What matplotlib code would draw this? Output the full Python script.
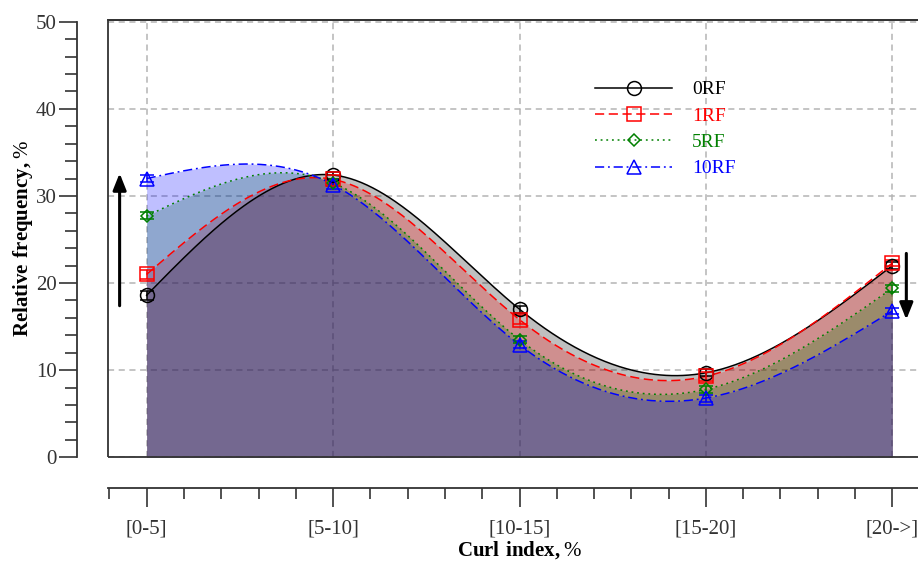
import numpy as np
import matplotlib
matplotlib.use("Agg")
import matplotlib.pyplot as plt
from matplotlib.patches import Rectangle
from matplotlib.ticker import MultipleLocator

plt.rcParams["font.family"] = ["Liberation Serif", "DejaVu Serif"]
plt.rcParams["mathtext.fontset"] = "custom"
plt.rcParams["mathtext.rm"] = "Liberation Serif"
plt.rcParams["mathtext.bf"] = "Liberation Serif:bold"

categories = ["[0-5]", "[5-10]", "[10-15]", "[15-20]", "[20->]"]
labels = ["0RF", "1RF", "5RF", "10RF"]
rf0 = [18.6, 32.4, 17.0, 9.7, 22.0]
rf1 = [21.0, 31.9, 15.8, 9.3, 22.3]
rf5 = [27.7, 31.5, 13.5, 7.8, 19.4]
rf10 = [32.0, 31.3, 12.9, 6.8, 16.8]
err0 = [0.5, 0.4, 0.4, 0.4, 0.4]
err1 = [0.5, 0.5, 0.5, 0.5, 0.4]
err5 = [0.4, 0.4, 0.4, 0.4, 0.4]
err10 = [0.4, 0.5, 0.4, 0.4, 0.3]

colors = ["black", "red", "green", "blue"]
styles = ["-", (0, (6, 3)), (0, (1.2, 2.5)), (0, (6, 2.5, 1.2, 2.5))]
markers = ["o", "s", "D", "^"]
msizes = [10, 9.5, 6.5, 9.5]


def natural_spline(x, y, xs):
    x = np.asarray(x, float)
    y = np.asarray(y, float)
    n = len(x)
    h = np.diff(x)
    A = np.zeros((n, n))
    b = np.zeros(n)
    A[0, 0] = 1
    A[-1, -1] = 1
    for i in range(1, n - 1):
        A[i, i - 1] = h[i - 1]
        A[i, i] = 2 * (h[i - 1] + h[i])
        A[i, i + 1] = h[i]
        b[i] = 6 * ((y[i + 1] - y[i]) / h[i] - (y[i] - y[i - 1]) / h[i - 1])
    M = np.linalg.solve(A, b)
    ys = np.zeros_like(xs)
    for k, xv in enumerate(xs):
        i = min(np.searchsorted(x, xv, side="right") - 1, n - 2)
        i = max(i, 0)
        t1 = x[i + 1] - xv
        t0 = xv - x[i]
        ys[k] = (M[i] * t1 ** 3 / (6 * h[i]) + M[i + 1] * t0 ** 3 / (6 * h[i])
                 + (y[i] / h[i] - M[i] * h[i] / 6) * t1
                 + (y[i + 1] / h[i] - M[i + 1] * h[i] / 6) * t0)
    return ys


fig = plt.figure(figsize=(9.18, 5.62), dpi=100)
ax = fig.add_axes([107.5 / 918, (562 - 457.3) / 562, 824 / 918, (457.3 - 19.5) / 562])

x = np.arange(len(categories))
xs = np.linspace(0, len(categories) - 1, 400)
series = [rf0, rf1, rf5, rf10]
errs = [err0, err1, err5, err10]

for s, c in zip(series, colors):
    ax.fill_between(xs, 0, natural_spline(x, s, xs), color=c, alpha=0.25, lw=0)

handles = []
for s, e, c, ls, m, ms, lab in zip(series, errs, colors, styles, markers, msizes, labels):
    ax.plot(xs, natural_spline(x, s, xs), color=c, ls=ls, lw=1.1, zorder=3)
    ax.errorbar(x, s, yerr=e, fmt="none", ecolor=c, elinewidth=1.1, capsize=5,
                capthick=1.1, zorder=4)
    ax.plot(x, s, ls="none", marker=m, mfc="none", mec=c, ms=ms, mew=1.1, zorder=5)
    h, = ax.plot([], [], color=c, ls=ls, lw=1.1, marker=m, mfc="none", mec=c,
                 ms=ms, mew=1.1)
    handles.append(h)

# arrows showing trend
ax.annotate("", xy=(-0.145, 32.6), xytext=(-0.145, 17.4),
            arrowprops=dict(arrowstyle="-|>,head_length=1.0,head_width=0.4",
                            color="black", lw=2.2, shrinkA=0, shrinkB=0))
ax.annotate("", xy=(4.075, 15.8), xytext=(4.075, 23.4),
            arrowprops=dict(arrowstyle="-|>,head_length=1.0,head_width=0.4",
                            color="black", lw=2.2, shrinkA=0, shrinkB=0))

ax.set_xlim(-0.21, 4.21)
ax.set_ylim(0, 50.25)
ax.set_axisbelow(True)
ax.grid(True, which="major", color="#b4b4b4", ls=(0, (4, 3)), lw=1.1)

ax.spines["left"].set_position(("outward", 22))
ax.spines["bottom"].set_position(("outward", 22))
ax.spines["left"].set_bounds(0, 50)
for sp in ax.spines.values():
    sp.set_linewidth(1.3)
    sp.set_color("#333333")
ax.add_patch(Rectangle((0, 0), 1, 1, transform=ax.transAxes, fill=False,
                       lw=1.3, edgecolor="#333333", zorder=6, clip_on=False))

ax.set_xticks(x)
ax.set_xticklabels(categories)
ax.xaxis.set_minor_locator(MultipleLocator(0.2))
ax.yaxis.set_major_locator(MultipleLocator(10))
ax.yaxis.set_minor_locator(MultipleLocator(2))
ax.tick_params(axis="x", which="major", direction="out", length=13.5, width=1.2,
               pad=9, labelsize=15, colors="#333333", labelcolor="#333333")
ax.tick_params(axis="x", which="minor", direction="out", length=8, width=1.2,
               colors="#333333")
ax.tick_params(axis="y", which="major", direction="out", length=13, width=1.2,
               pad=1.5, labelsize=15, colors="#333333", labelcolor="#333333")
ax.tick_params(axis="y", which="minor", direction="out", length=8.5, width=1.2,
               colors="#333333")

ax.set_xlabel(r"$\mathbf{Curl\ index,}$%", fontsize=15, labelpad=1)
ax.set_ylabel(r"$\mathbf{Relative\ frequency,}$%", fontsize=15, labelpad=1)

leg = ax.legend(handles, labels, loc="upper left", bbox_to_anchor=(0.57, 0.90),
                frameon=False, fontsize=14, handlelength=4, handletextpad=1.0,
                labelspacing=0.45)
for t, c in zip(leg.get_texts(), colors):
    t.set_color(c)

fig.savefig("out.png", dpi=100)
